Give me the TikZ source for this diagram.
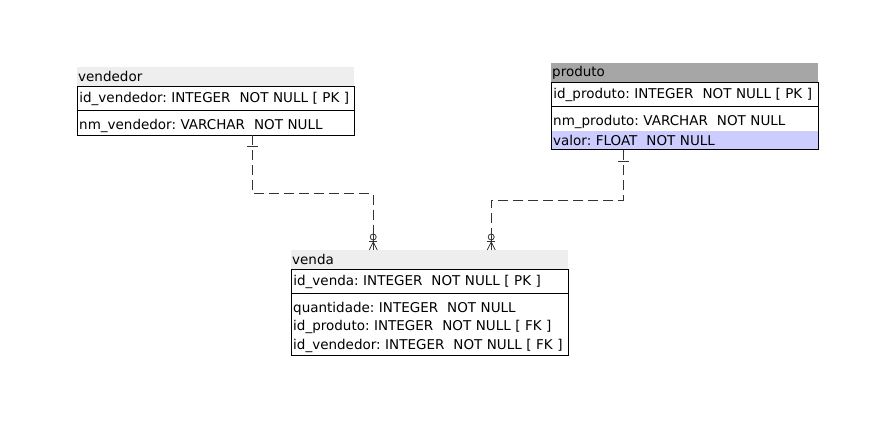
\documentclass[tikz,border=0pt]{standalone}
\usepackage{fontspec}
\setmainfont{DejaVu Sans}
\usetikzlibrary{positioning,fit,calc}
\definecolor{ttlgray}{HTML}{EEEEEE}
\definecolor{selgray}{HTML}{A6A6A6}
\definecolor{selrow}{HTML}{CCCCFF}
\definecolor{relgray}{HTML}{333333}
\frenchspacing
\begin{document}
\begin{tikzpicture}[
  x=1pt, y=1pt,
  font=\fontsize{13.5}{15}\selectfont,
  ttl/.style={anchor=north west, text width=#1, align=left, inner xsep=1pt,
    inner ysep=0pt, minimum height=19pt, fill=ttlgray},
  pkrow/.style={text width=#1, align=left, inner xsep=2pt, inner ysep=0pt,
    minimum height=24pt, draw, line width=0.8pt},
  col/.style={text width=#1, align=left, inner xsep=2pt, inner ysep=0pt,
    minimum height=18.4pt},
  frame/.style={draw, line width=0.8pt, inner sep=0pt},
  rel/.style={draw=relgray, line width=0.8pt, dash pattern=on 10pt off 5pt},
  relmark/.style={draw=relgray, line width=0.8pt}
  ]
  \useasboundingbox (0,0) rectangle (873,425);

  % vendedor
  \node[ttl=275pt] (vendedor) at (77,358) {vendedor};
  \node[pkrow=273pt, below=0pt of vendedor.south west, anchor=north west]
    (vendedorpk) {id\_vendedor: INTEGER\ \ NOT NULL [ PK ]};
  \node[col=273pt, below=5pt of vendedorpk.south west, anchor=north west]
    (vendedornm) {nm\_vendedor: VARCHAR\ \ NOT NULL};
  \node[frame, fit=(vendedorpk)(vendedornm)] (vendedorbox) {};

  % produto
  \node[ttl=265pt, fill=selgray] (produto) at (551,362) {produto};
  \node[pkrow=263pt, below=0pt of produto.south west, anchor=north west]
    (produtopk) {id\_produto: INTEGER\ \ NOT NULL [ PK ]};
  \node[col=263pt, below=5pt of produtopk.south west, anchor=north west]
    (produtonm) {nm\_produto: VARCHAR\ \ NOT NULL};
  \node[col=263pt, fill=selrow, below=0pt of produtonm.south west, anchor=north west]
    (produtovalor) {valor: FLOAT\ \ NOT NULL};
  \node[frame, fit=(produtopk)(produtovalor)] (produtobox) {};

  % venda
  \node[ttl=275pt] (venda) at (291,175) {venda};
  \node[pkrow=273pt, below=0pt of venda.south west, anchor=north west]
    (vendapk) {id\_venda: INTEGER\ \ NOT NULL [ PK ]};
  \node[col=273pt, below=5pt of vendapk.south west, anchor=north west]
    (vendaqt) {quantidade: INTEGER\ \ NOT NULL};
  \node[col=273pt, below=0pt of vendaqt.south west, anchor=north west]
    (vendaprod) {id\_produto: INTEGER\ \ NOT NULL [ FK ]};
  \node[col=273pt, below=0pt of vendaprod.south west, anchor=north west]
    (vendavend) {id\_vendedor: INTEGER\ \ NOT NULL [ FK ]};
  \node[frame, fit=(vendapk)(vendavend)] (vendabox) {};

  % relacionamentos
  \coordinate (vendedorini) at ([xshift=36.5pt]vendedorbox.south);
  \coordinate (vendedorfim) at ([xshift=-56.5pt]venda.north);
  \coordinate (produtoini) at ([xshift=-61.5pt]produtobox.south);
  \coordinate (produtofim) at ([xshift=61.5pt]venda.north);

  \draw[rel] (vendedorini) -- ++(0,-58) -| (vendedorfim);
  \draw[rel] (produtoini) -- ++(0,-50) -| (produtofim);

  \foreach \ini/\fim in {vendedorini/vendedorfim, produtoini/produtofim} {
    % um
    \draw[relmark] ([xshift=-5.5pt,yshift=-11pt]\ini) -- ++(11,0);
    % zero ou muitos
    \draw[relmark] (\fim) -- ++(0,18);
    \draw[relmark] ([yshift=13pt]\fim) circle (3pt);
    \draw[relmark] ([xshift=-4pt,yshift=9pt]\fim) -- ++(8,0);
    \draw[relmark] ([yshift=8pt]\fim) -- ++(-4,-8)
      ([yshift=8pt]\fim) -- ++(4,-8);
  }
\end{tikzpicture}
\end{document}
